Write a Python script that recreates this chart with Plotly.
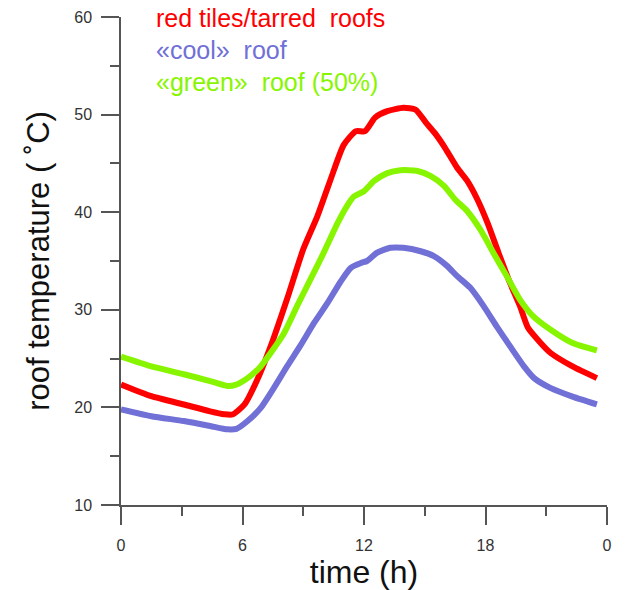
import plotly.graph_objects as go

# Diurnal roof surface temperature for three roof types
red_hours = [0, 1.5, 3.1, 4.4, 5.1, 5.5, 6.1, 6.7, 7.4, 8.2, 9.0, 9.7, 10.35, 11.0,
             11.6, 12.05, 12.55, 13.15, 13.95, 14.55, 15.05, 15.5, 16.0, 16.6, 17.1,
             17.6, 18.1, 18.65, 19.2, 19.7, 20.1, 20.7, 21.2, 22.3, 23.5]
red_temp = [22.35, 21.15, 20.3, 19.6, 19.3, 19.27, 20.3, 22.7, 26.3, 31.1, 36.2, 39.6,
            43.35, 46.9, 48.3, 48.3, 49.7, 50.35, 50.7, 50.5, 49.2, 48.1, 46.6, 44.55,
            43.2, 41.3, 38.9, 35.8, 32.8, 30.4, 28.15, 26.65, 25.6, 24.2, 23.0]

cool_hours = [0, 1.5, 3.1, 4.4, 5.25, 5.7, 6.25, 6.9, 7.55, 8.2, 8.85, 9.55, 10.2,
              10.85, 11.35, 11.85, 12.15, 12.65, 13.3, 13.95, 14.8, 15.45, 16.1, 16.6,
              17.25, 17.9, 18.55, 19.2, 19.9, 20.4, 21.2, 22.3, 23.5]
cool_temp = [19.8, 19.1, 18.6, 18.1, 17.75, 17.8, 18.6, 19.95, 22.0, 24.2, 26.3, 28.7,
             30.7, 32.9, 34.3, 34.8, 35.0, 35.85, 36.35, 36.35, 36.0, 35.5, 34.5, 33.45,
             32.25, 30.4, 28.3, 26.3, 24.2, 23.0, 22.0, 21.1, 20.3]

green_hours = [0, 1.5, 3.1, 4.4, 5.25, 5.65, 6.25, 6.9, 7.4, 8.05, 8.7, 9.35, 10.0,
               10.7, 11.15, 11.5, 12.0, 12.5, 13.15, 13.8, 14.6, 15.3, 15.95, 16.5,
               17.1, 17.75, 18.4, 19.05, 19.7, 20.35, 21.2, 22.3, 23.5]
green_temp = [25.2, 24.2, 23.4, 22.7, 22.2, 22.3, 23.0, 24.2, 25.6, 27.6, 30.4, 33.1,
              35.8, 38.9, 40.6, 41.6, 42.15, 43.2, 44.0, 44.3, 44.25, 43.7, 42.7, 41.3,
              40.1, 38.2, 35.8, 33.45, 31.05, 29.35, 27.98, 26.6, 25.85]

series_names = ["red tiles/tarred  roofs", "«cool»  roof", "«green»  roof (50%)"]
series_colors = ["#ff0000", "#7070d6", "#88f500"]

hour_ticks = [0, 6, 12, 18, 24]
hour_labels = ["0", "6", "12", "18", "0"]
temp_ticks = [10, 20, 30, 40, 50, 60]

FONT = "Liberation Sans, Arial, sans-serif"
AXIS_COLOR = "#555555"

fig = go.Figure()
for hrs, temps, name, color in zip(
    [red_hours, cool_hours, green_hours],
    [red_temp, cool_temp, green_temp],
    series_names, series_colors,
):
    fig.add_trace(go.Scatter(
        x=hrs, y=temps, mode="lines", name=name,
        line=dict(color=color, width=6, shape="spline", smoothing=0.6),
        cliponaxis=False,
    ))

# Legend drawn as coloured text lines in the top-left corner
legend_y = [0.9980, 0.9325, 0.8670]
for name, color, yy in zip(series_names, series_colors, legend_y):
    fig.add_annotation(
        text=name, xref="paper", yref="paper", x=0.0680, y=yy,
        xanchor="left", yanchor="middle", showarrow=False,
        font=dict(family=FONT, size=25, color=color),
    )

fig.update_xaxes(
    range=[0, 24], tickmode="array", tickvals=hour_ticks, ticktext=hour_labels,
    ticks="outside", ticklen=18, tickwidth=1.5, tickcolor=AXIS_COLOR,
    minor=dict(dtick=3, tick0=0, ticks="outside", ticklen=9, tickwidth=1.5,
               tickcolor=AXIS_COLOR, showgrid=False),
    showline=True, linecolor=AXIS_COLOR, linewidth=1.5,
    showgrid=False, zeroline=False, ticklabelstandoff=7, automargin=False,
    tickfont=dict(family=FONT, size=16, color="#333333"),
    title=dict(text="time (h)", font=dict(family=FONT, size=32, color="#111111"),
               standoff=8),
)
fig.update_yaxes(
    range=[10, 60], tickmode="array", tickvals=temp_ticks,
    ticks="outside", ticklen=18, tickwidth=1.5, tickcolor=AXIS_COLOR,
    minor=dict(dtick=5, tick0=0, ticks="outside", ticklen=9, tickwidth=1.5,
               tickcolor=AXIS_COLOR, showgrid=False),
    showline=True, linecolor=AXIS_COLOR, linewidth=1.5,
    showgrid=False, zeroline=False, ticklabelstandoff=6, automargin=False,
    tickfont=dict(family=FONT, size=16, color="#333333"),
    title=dict(text="roof temperature ( ˚C)",
               font=dict(family=FONT, size=31, color="#111111"), standoff=15),
)

fig.update_layout(
    width=631, height=590,
    margin=dict(l=121, r=24, t=17, b=85),
    paper_bgcolor="white", plot_bgcolor="white",
    showlegend=False,
)

fig.write_html("out.html")
